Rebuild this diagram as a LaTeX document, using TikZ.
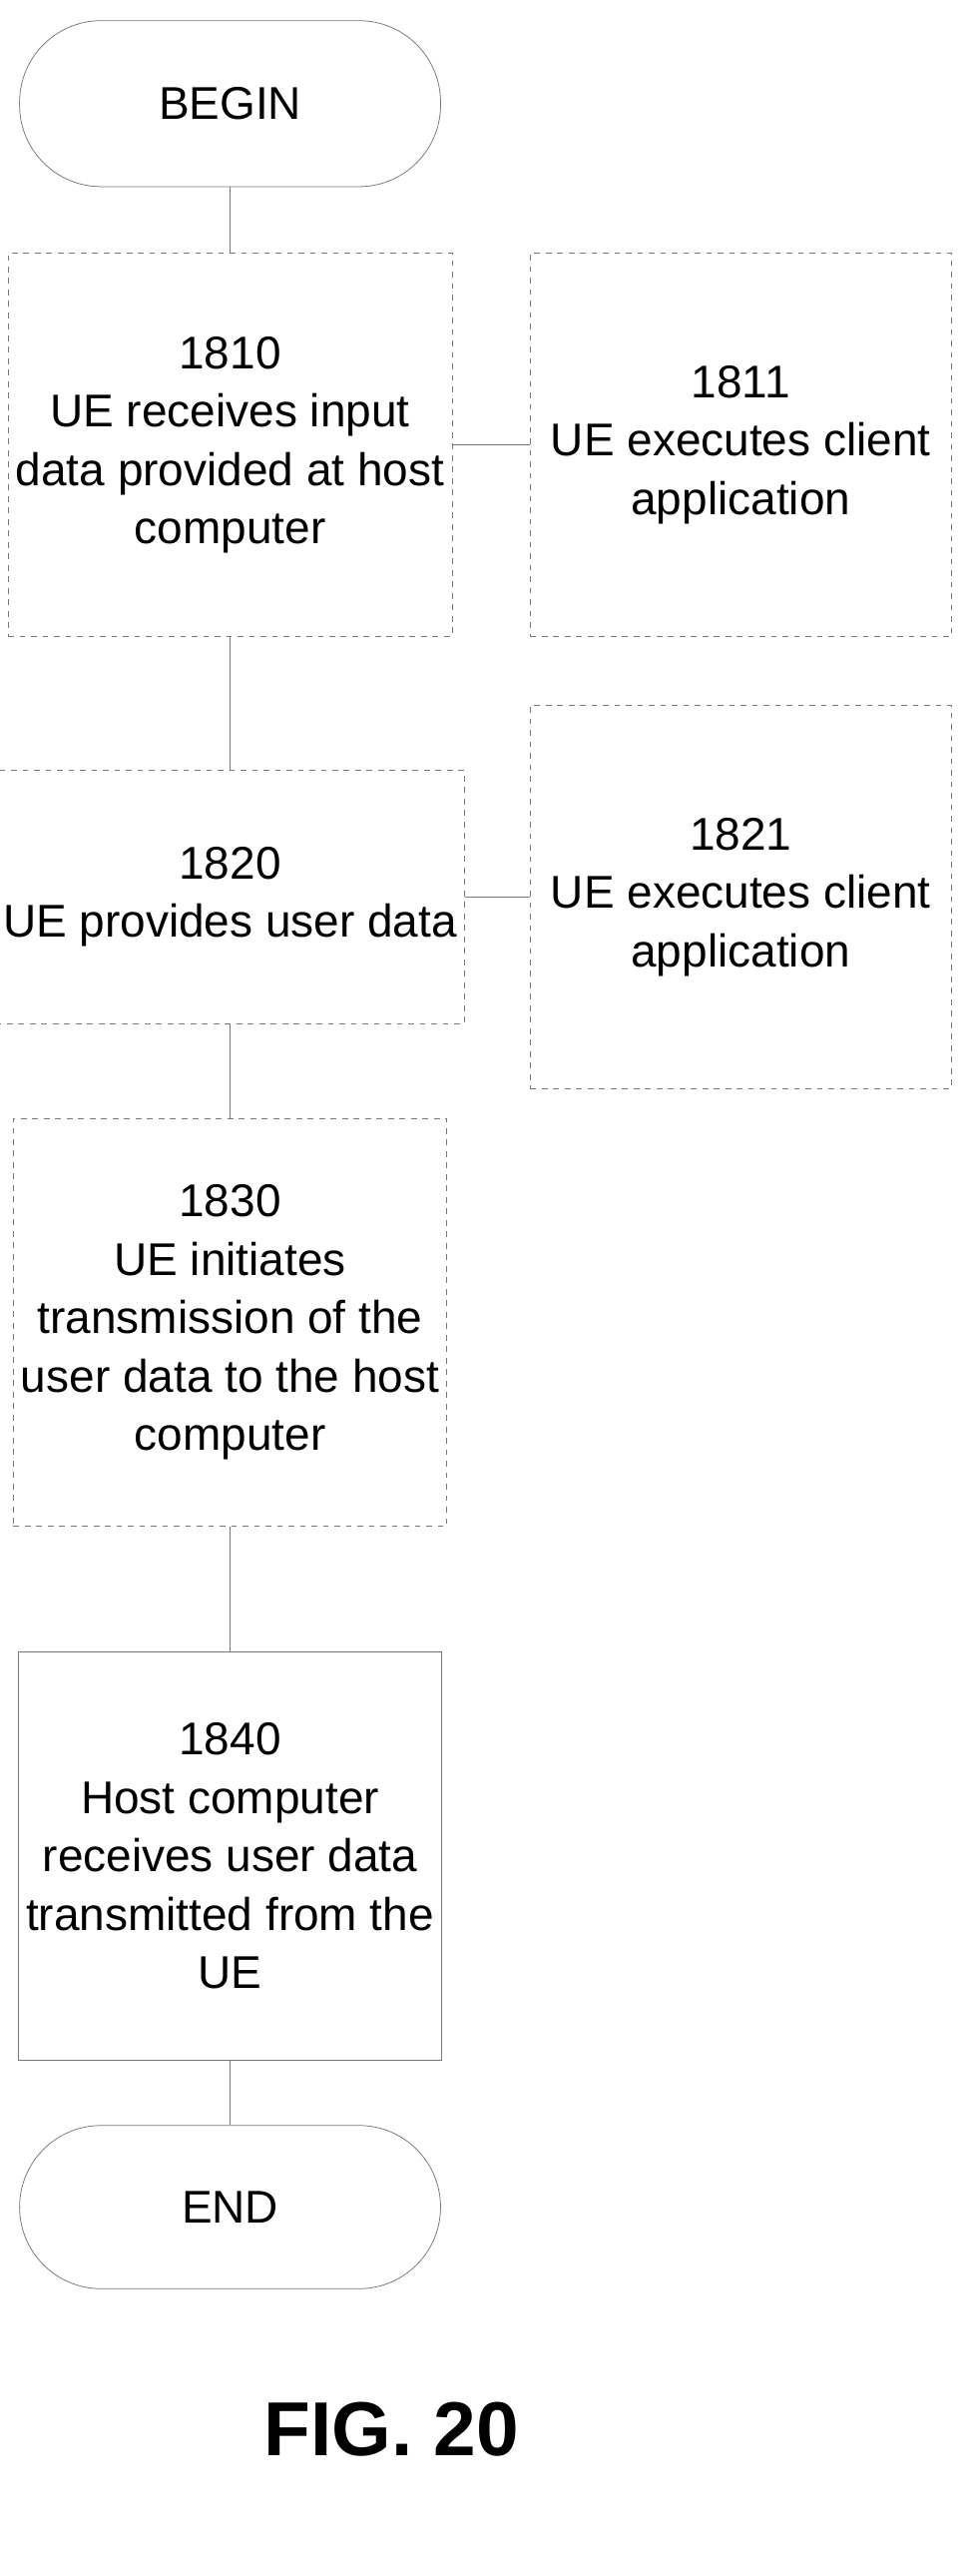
\documentclass[tikz,border=0pt]{standalone}
\usepackage{fontspec}
\setmainfont{Liberation Sans}
\definecolor{edge}{RGB}{120,120,120}
\begin{document}
\begin{tikzpicture}[%
        x=0.03cm, y=-0.03cm,
        every node/.style={font=\fontsize{24}{30.5}\selectfont},
        basic/.style ={draw=edge, minimum width=7.74cm, align=center, inner sep=4pt},
        proc/.style={basic, dashed, minimum height=7.05cm},
        short/.style={basic, dashed, minimum height=4.65cm},
        solidproc/.style={basic, minimum height=7.5cm},
        term/.style={basic, rounded corners=1.5cm, minimum height=3.05cm},
        link/.style={draw=edge, line width=0.6pt}
        ]
        \useasboundingbox (0,0) rectangle (600,1578);
        \node[term] (beg) at (141,63.5) {BEGIN};
        \node[proc] (s1810) at (141,272.5) {1810\\UE receives input\\data provided at host\\computer};
        \node[proc] (s1811) at (454,272.5) {1811\\UE executes client\\application};
        \node[short] (s1820) at (141,549.5) {1820\\UE provides user data};
        \node[proc] (s1821) at (454,549.5) {1821\\UE executes client\\application};
        \node[proc, minimum height=7.5cm] (s1830) at (141,810) {1830\\UE initiates\\transmission of the\\user data to the host\\computer};
        \node[solidproc] (s1840) at (141,1137) {1840\\Host computer\\receives user data\\transmitted from the\\UE};
        \node[term, minimum height=3cm] (fin) at (141,1352) {END};
        \node[font=\fontsize{40}{48}\selectfont\bfseries] (fig) at (240,1488) {FIG. 20};
        \draw[link] (beg.south) -- (s1810.north);
        \draw[link] (s1810.east) -- (s1811.west);
        \draw[link] (s1810.south) -- (s1820.north);
        \draw[link] (s1820.east) -- (s1821.west);
        \draw[link] (s1820.south) -- (s1830.north);
        \draw[link] (s1830.south) -- (s1840.north);
        \draw[link] (s1840.south) -- (fin.north);
    \end{tikzpicture}
\end{document}
